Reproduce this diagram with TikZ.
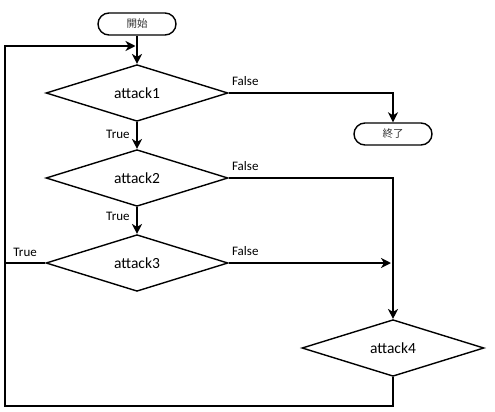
\documentclass[tikz,border=0pt]{standalone}
\usepackage{fontspec}
\setmainfont{Carlito}
\newfontfamily\jp{Noto Sans CJK JP}
\usepackage{tikz}
\usetikzlibrary{arrows.meta,shapes.geometric}
\tikzset{
    decision/.style={diamond,draw,line width=1.4pt,minimum width=182pt,minimum height=53pt,inner sep=0pt,font=\fontsize{15.5}{18}\selectfont},
    terminal/.style={rectangle,draw,rounded corners=11pt,line width=1.4pt,minimum width=78pt,minimum height=22pt,inner sep=0pt,font=\jp\fontsize{10.5}{12}\selectfont,text=black!80},
    edge/.style={->,> = {Stealth[length=10pt,width=10pt,inset=3pt]},line width=2.8pt},
    lbl/.style={font=\fontsize{13}{15}\selectfont,inner sep=2pt}
}
\newcommand{\cx}{137}
\newcommand{\rx}{393}

\begin{document}
\begin{tikzpicture}[x=1pt,y=-1pt]
\useasboundingbox (0,0) rectangle (495,412);
\node[terminal] (1) at (\cx,24) {開始};
\node[decision] (2) at (\cx,93) {attack1};
\node[terminal] (3) at (\rx,134) {終了};
\node[decision] (4) at (\cx,178) {attack2};
\node[decision] (5) at (\cx,263) {attack3};
\node[decision] (6) at (\rx,348) {attack4};
\coordinate (7) at (5,406);
\coordinate (8) at (5,46);
\coordinate (9) at (\cx,46);

\draw[edge] (1) -- (2);
\draw[edge] (2) -- (4) node[lbl, pos=0.45, left=4pt] {True};
\draw[edge] (4) -- (5) node[lbl, pos=0.35, left=4pt] {True};
\draw[edge] (2.east) -| (3) node[lbl, pos=0, above right, yshift=4pt] {False};
\draw[edge] (4.east) -| (6) node[lbl, pos=0, above right, yshift=4pt] {False};
\draw[edge, shorten >=2pt] (5.east) -- (5.east -| 6.north) node[lbl, pos=0, above right, yshift=4pt] {False};
\draw[line width=2.8pt] (5.west) -- (5.west -| 7) node[lbl, midway, above, yshift=3pt] {True};
\draw[edge, shorten >=1.5pt] (6) |- (7) -- (8) -- (9);

\end{tikzpicture}
\end{document}
